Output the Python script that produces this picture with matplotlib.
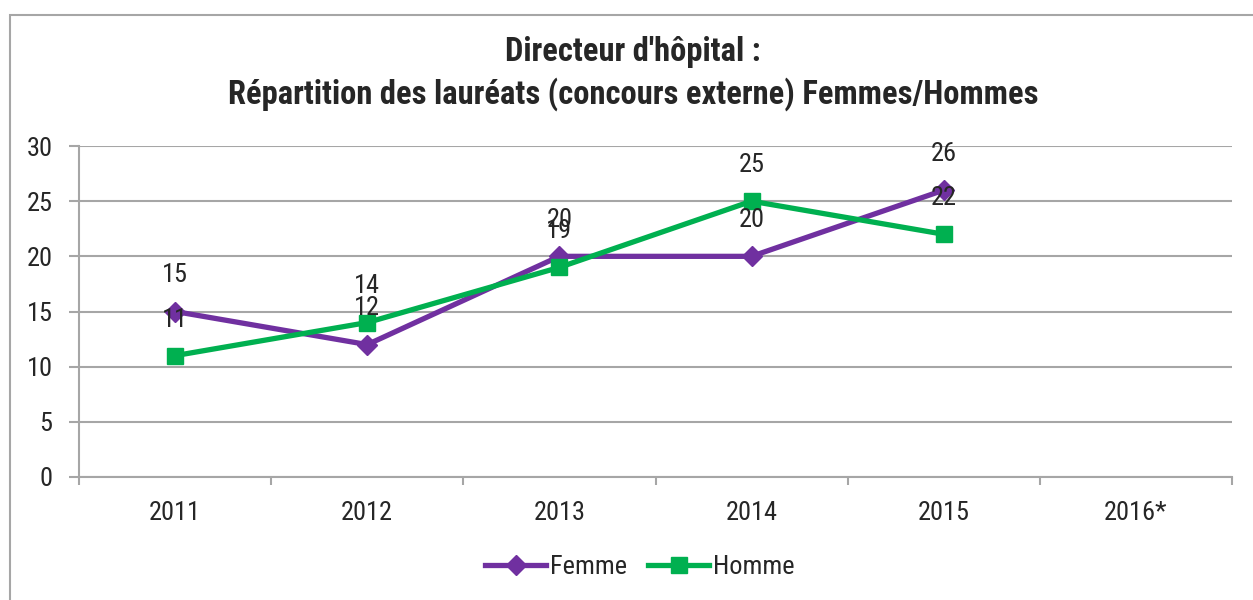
import matplotlib.pyplot as plt
from matplotlib.patches import Rectangle

years = ["2011", "2012", "2013", "2014", "2015", "2016*"]
femme = [15, 12, 20, 20, 26]
homme = [11, 14, 19, 25, 22]

plt.rcParams["font.family"] = ["Liberation Sans Narrow", "Roboto Condensed", "Liberation Sans", "DejaVu Sans"]
txt = "#262626"
grid = "#a6a6a6"

fig = plt.figure(figsize=(12.53, 6), dpi=100)
# grey frame around the chart, cut by the right and bottom edges
fig.patches.append(Rectangle((10 / 1253, -0.05), 1.2, 0.05 + 1 - 15 / 600,
                             transform=fig.transFigure, fill=False, edgecolor=grid, linewidth=1.5))

ax = fig.add_axes([79 / 1253, 1 - 477 / 600, (1232 - 79) / 1253, (477 - 146) / 600])

x = list(range(len(years)))
ax.plot(x[:len(femme)], femme, color="#7030a0", linewidth=3.8, marker="D", markersize=10, label="Femme")
ax.plot(x[:len(homme)], homme, color="#00b050", linewidth=3.8, marker="s", markersize=12, label="Homme")

for i, v in enumerate(femme):
    ax.annotate(str(v), (i, v), xytext=(0, 26), textcoords="offset points",
                ha="center", va="center", fontsize=19, color=txt)
for i, v in enumerate(homme):
    ax.annotate(str(v), (i, v), xytext=(0, 26), textcoords="offset points",
                ha="center", va="center", fontsize=19, color=txt)

ax.set_xlim(-0.5, len(years) - 0.5)
ax.set_ylim(0, 30)
ax.set_yticks(range(0, 31, 5))
ax.set_xticks(x)
ax.set_xticklabels(years)
ax.set_xticks([i - 0.5 for i in range(len(years) + 1)], minor=True)
ax.tick_params(axis="x", which="major", length=0, pad=17, labelsize=19, labelcolor=txt)
ax.tick_params(axis="x", which="minor", length=6, color=grid, width=1.5)
ax.tick_params(axis="y", length=7, color=grid, width=1.5, pad=12, labelsize=19, labelcolor=txt)
ax.grid(axis="y", color=grid, linewidth=1.5)
ax.set_axisbelow(True)
for s in ["top", "right"]:
    ax.spines[s].set_visible(False)
for s in ["left", "bottom"]:
    ax.spines[s].set_color(grid)
    ax.spines[s].set_linewidth(1.5)

fig.text(0.505, 1 - 52 / 600, "Directeur d'hôpital :", ha="center", va="center",
         fontsize=23.5, fontweight="bold", color=txt)
fig.text(0.505, 1 - 94 / 600, "Répartition des lauréats (concours externe) Femmes/Hommes", ha="center",
         va="center", fontsize=23.5, fontweight="bold", color=txt)

fig.legend(loc="center", bbox_to_anchor=(640 / 1253, 1 - 567 / 600), ncol=2, frameon=False,
           fontsize=19, handlelength=2.3, handletextpad=0.15, columnspacing=0.8, labelcolor=txt)

fig.savefig("out.png", dpi=100)
